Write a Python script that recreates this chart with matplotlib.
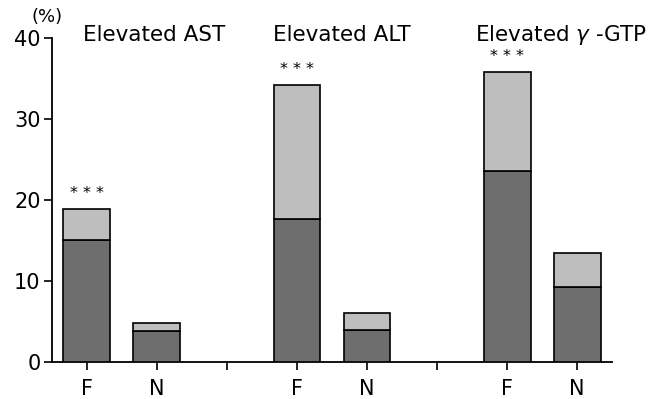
import matplotlib
matplotlib.use("Agg")
import matplotlib.pyplot as plt
import numpy as np

plt.rcParams['font.family'] = ['DejaVu Sans']

###########################################################################################################################
# data
###########################################################################################################################
panels = ["Elevated AST", "Elevated ALT", "Elevated $\\gamma$ -GTP"]
groups = ["F", "N"]
total_F = [18.9, 34.2, 35.8]
dark_F = [15.1, 17.7, 23.6]
total_N = [4.8, 6.0, 13.5]
dark_N = [3.8, 3.9, 9.3]
yticks = [0, 10, 20, 30, 40]

dark_col = "#6e6e6e"
light_col = "#bebebe"

fig = plt.figure(figsize=(6.64, 3.99), dpi=100)
ax = fig.add_axes([0.078, 0.093, 0.844, 0.812])

pos_F = np.arange(len(panels)) * 3
pos_N = pos_F + 1
w = 0.67

for pos, tot, dk in [(pos_F, total_F, dark_F), (pos_N, total_N, dark_N)]:
    tot = np.array(tot)
    dk = np.array(dk)
    ax.bar(pos, dk, width=w, color=dark_col, edgecolor="black", linewidth=1.2, zorder=3)
    ax.bar(pos, tot - dk, bottom=dk, width=w, color=light_col, edgecolor="black", linewidth=1.2, zorder=3)

# significance stars above F bars
for p, t in zip(pos_F, total_F):
    ax.text(p, t + 1.9, "* * *", ha="center", va="center", fontsize=11.5)

# panel titles
title_x = [0.96, 3.64, 6.77]
for tx, name in zip(title_x, panels):
    ax.text(tx, 39.6, name, ha="center", va="baseline", fontsize=15.5, clip_on=False)

ax.set_xlim(-0.5, 7.5)
ax.set_ylim(0, 40)
ax.set_yticks(yticks)
ax.set_yticklabels([str(v) for v in yticks], fontsize=15)

tick_pos = list(range(8))
tick_lab = []
for i in tick_pos:
    if i % 3 == 0:
        tick_lab.append("F")
    elif i % 3 == 1:
        tick_lab.append("N")
    else:
        tick_lab.append("")
ax.set_xticks(tick_pos)
ax.set_xticklabels(tick_lab, fontsize=15)

ax.spines["top"].set_visible(False)
ax.spines["right"].set_visible(False)
ax.spines["left"].set_linewidth(1.3)
ax.spines["bottom"].set_linewidth(1.3)
ax.tick_params(axis="y", length=6, width=1.2, direction="out", pad=2)
ax.tick_params(axis="x", length=6, width=1.2, direction="out", pad=6)

fig.text(0.047, 0.935, "(%)", fontsize=13, ha="left", va="bottom")

plt.savefig("out.png", dpi=100)
